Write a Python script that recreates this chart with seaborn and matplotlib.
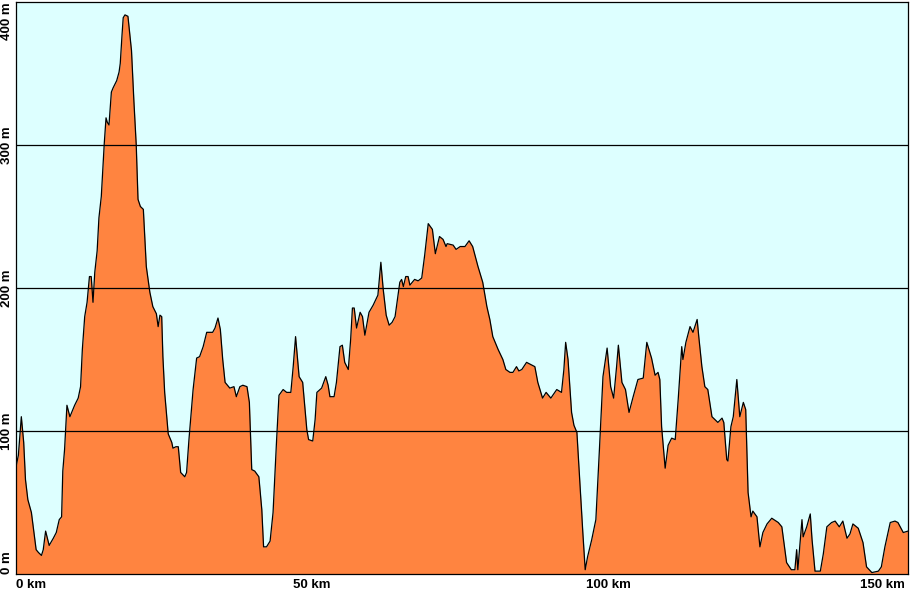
import numpy as np
import pandas as pd
import matplotlib
matplotlib.use("Agg")
import matplotlib.pyplot as plt
import seaborn as sns

# elevation profile (distance in km, elevation in m)
km = [0.0, 0.4, 0.9, 1.3, 1.6, 2.0, 2.6, 3.0, 3.4, 3.8, 4.3, 4.6, 5.0, 5.6, 6.3, 6.8,
      7.3, 7.7, 7.9, 8.2, 8.6, 9.1, 9.9, 10.5, 10.9, 11.2, 11.6, 12.0, 12.4, 12.7, 13.0,
      13.3, 13.7, 14.0, 14.4, 14.9, 15.2, 15.4, 15.7, 16.1, 16.4, 17.0, 17.4, 17.6, 17.9,
      18.1, 18.4, 18.9, 19.2, 19.5, 19.9, 20.3, 20.6, 21.0, 21.5, 22.0, 22.6, 23.1, 23.7,
      24.0, 24.3, 24.6, 24.8, 25.1, 25.7, 26.3, 26.5, 27.0, 27.4, 27.8, 28.5, 28.8, 29.2,
      29.9, 30.5, 31.0, 31.6, 32.2, 32.7, 33.2, 33.6, 34.1, 34.5, 34.9, 35.3, 36.1, 36.8,
      37.2, 37.8, 38.3, 39.0, 39.4, 39.8, 40.3, 41.0, 41.5, 41.8, 42.3, 42.9, 43.4, 44.0,
      44.4, 45.1, 45.7, 46.4, 46.8, 47.2, 47.8, 48.4, 49.1, 49.4, 50.1, 50.5, 50.8, 51.6,
      52.3, 52.7, 53.0, 53.7, 54.1, 54.7, 55.1, 55.5, 56.1, 56.5, 56.8, 57.1, 57.5, 58.1,
      58.5, 58.9, 59.6, 60.3, 61.1, 61.6, 62.0, 62.5, 63.0, 63.5, 64.0, 64.4, 64.8, 65.1,
      65.4, 65.8, 66.2, 66.5, 67.3, 67.9, 68.5, 69.0, 69.6, 70.3, 70.8, 71.5, 72.1, 72.6,
      72.8, 73.8, 74.3, 75.0, 75.8, 76.5, 77.1, 78.0, 78.8, 79.5, 80.0, 80.5, 81.4, 82.2,
      82.7, 83.4, 83.9, 84.5, 84.9, 85.4, 86.2, 87.6, 88.1, 88.9, 89.5, 90.3, 91.3, 92.1,
      92.5, 92.8, 93.2, 93.8, 94.2, 94.7, 95.2, 95.7, 96.1, 96.5, 97.2, 97.9, 98.5, 99.1,
      99.8, 100.4, 100.9, 101.4, 101.7, 102.3, 102.9, 103.5, 104.2, 105.0, 105.9, 106.5,
      107.3, 107.9, 108.4, 108.7, 109.0, 109.6, 110.1, 110.7, 111.3, 111.8, 112.4, 112.6,
      113.1, 113.8, 114.3, 115.0, 115.3, 115.8, 116.3, 116.8, 117.5, 118.0, 118.5, 119.2,
      119.5, 120.0, 120.2, 120.7, 121.1, 121.7, 122.2, 122.8, 123.2, 123.6, 124.1, 124.4,
      125.1, 125.6, 126.1, 126.8, 127.6, 128.7, 129.3, 130.1, 130.9, 131.5, 131.8, 132.0,
      132.7, 132.9, 133.5, 134.1, 134.4, 134.9, 135.8, 136.3, 136.9, 137.7, 138.3, 139.0,
      139.6, 140.3, 140.8, 141.3, 142.2, 143.0, 143.6, 144.5, 145.6, 146.1, 146.7, 147.6,
      148.4, 148.9, 149.8, 150.6]
elev = [75, 83, 110, 92, 66, 52, 43, 30, 17, 15, 13, 17, 30, 20, 25, 29,
        38, 40, 72, 87, 118, 110, 118, 123, 131, 157, 180, 190, 208, 208, 190,
        211, 226, 249, 264, 301, 319, 316, 314, 337, 340, 345, 351, 357, 377,
        389, 391, 390, 378, 366, 331, 300, 262, 257, 255, 215, 197, 187, 182,
        173, 181, 180, 152, 127, 98, 92, 88, 89, 89, 71, 68, 71, 94,
        129, 151, 152, 159, 169, 169, 169, 172, 179, 171, 150, 134, 130, 131,
        124, 131, 132, 131, 120, 73, 72, 68, 45, 19, 19, 23, 43, 94,
        125, 129, 127, 127, 145, 166, 138, 134, 101, 94, 93, 108, 127, 130,
        138, 132, 124, 124, 134, 159, 160, 148, 143, 164, 186, 186, 172, 183,
        180, 167, 183, 188, 195, 218, 199, 181, 174, 176, 180, 192, 204, 206,
        201, 208, 208, 202, 206, 205, 207, 223, 245, 241, 224, 236, 234, 229,
        231, 230, 227, 229, 229, 233, 229, 215, 204, 187, 178, 166, 157, 150,
        143, 141, 141, 145, 142, 143, 148, 145, 134, 123, 127, 123, 129, 127,
        143, 162, 150, 113, 104, 99, 64, 29, 3, 12, 24, 38, 87, 138,
        158, 131, 123, 145, 160, 134, 129, 113, 124, 136, 137, 162,
        151, 139, 141, 136, 103, 74, 90, 95, 94, 122, 159, 150,
        162, 173, 169, 178, 165, 145, 131, 129, 110, 108, 106, 109,
        106, 80, 79, 103, 110, 136, 110, 120, 115, 57, 40, 44,
        40, 19, 29, 35, 39, 36, 33, 8, 3, 3, 17, 3,
        38, 26, 33, 42, 24, 2, 2, 14, 33, 36, 37, 33,
        37, 25, 28, 35, 32, 22, 5, 1, 2, 5, 19, 36,
        37, 36, 29, 30]

x_ticks = [0, 50, 100, 150]
x_labels = ["0 km", "50 km", "100 km", "150 km"]
y_ticks = [0, 100, 200, 300, 400]
y_labels = ["0 m", "100 m", "200 m", "300 m", "400 m"]

df = pd.DataFrame({"km": km, "elev": elev})

sns.set_style("white")
plt.rcParams["font.family"] = ["Liberation Sans", "DejaVu Sans"]

fig = plt.figure(figsize=(9.1, 5.91), dpi=100)
ax = fig.add_axes([16 / 910, 17 / 591, 892 / 910, 572 / 591])
ax.set_facecolor("#DDFFFF")

ax.fill_between(df["km"], df["elev"], 0, color="#FF8440", lw=0, zorder=1)
sns.lineplot(data=df, x="km", y="elev", color="black", lw=0.9, ax=ax,
             sort=False, zorder=2)

for yv in [100, 200, 300]:
    ax.axhline(yv, color="black", lw=0.9, zorder=3)

ax.set_xlim(0, df["km"].max())
ax.set_ylim(0, 400)
ax.set_xlabel("")
ax.set_ylabel("")

ax.set_xticks(x_ticks)
ax.set_xticklabels(x_labels, fontsize=9.5, fontweight="bold")
ax.set_yticks(y_ticks)
ax.set_yticklabels(y_labels, fontsize=9.5, fontweight="bold", rotation=90)
ax.tick_params(axis="x", direction="out", length=3, width=0.8, pad=0.3, colors="black")
ax.tick_params(axis="y", direction="out", length=2, width=0.8, pad=0.5, colors="black")

xl = ax.get_xticklabels()
xl[0].set_ha("left")
xl[-1].set_ha("right")
yl = ax.get_yticklabels()
for t in yl:
    t.set_va("center")
yl[0].set_va("bottom")
yl[-1].set_va("top")

for s in ax.spines.values():
    s.set_visible(True)
    s.set_color("black")
    s.set_linewidth(0.9)

fig.savefig("out.png", dpi=100, facecolor="white")
